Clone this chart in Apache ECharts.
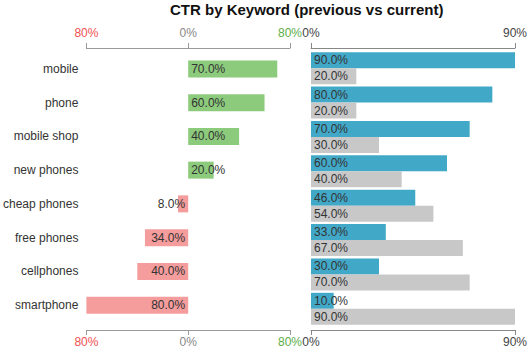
<!DOCTYPE html>
<html>
<head>
<meta charset="utf-8">
<script src="https://cdn.jsdelivr.net/npm/echarts@6/dist/echarts.min.js"></script>
<style>html,body{margin:0;padding:0;background:#fff}#c{width:532px;height:355px}</style>
</head>
<body>
<div id="c"></div>
<script>
var categories = ['mobile','phone','mobile shop','new phones','cheap phones','free phones','cellphones','smartphone'];
var currentCTR = [90, 80, 70, 60, 46, 33, 30, 10];
var previousCTR = [20, 20, 30, 40, 54, 67, 70, 90];
var changeCTR = [70, 60, 40, 20, -8, -34, -40, -80];
var diffTicks = [-80, 0, 80];
var ctrTicks = [0, 90];

var FONT = '"Liberation Sans", Arial, sans-serif';
var GREEN = '#8cca7c', RED = '#f59c9c', BLUE = '#42a8c7', GREY = '#c8c8c8';

function pct(v){ return Math.abs(v).toFixed(1) + '%'; }

var leftData = changeCTR.map(function(v){
  return {
    value: v,
    itemStyle: { color: v >= 0 ? GREEN : RED },
    label: { position: v >= 0 ? 'insideLeft' : 'insideRight', distance: 3 }
  };
});

function diffAxis(pos, off, margin){
  return {
    type: 'value', gridIndex: 0, position: pos, offset: off,
    min: diffTicks[0], max: diffTicks[2], interval: 80,
    splitLine: { show: false },
    axisLine: { show: true, lineStyle: { color: '#999' } },
    axisTick: { show: true, length: 5, lineStyle: { color: '#999' } },
    axisLabel: {
      margin: margin, fontFamily: FONT, fontSize: 12,
      formatter: function(v){
        var t = Math.abs(v) + '%';
        return v < 0 ? '{r|' + t + '}' : (v > 0 ? '{g|' + t + '}' : '{z|' + t + '}');
      },
      rich: {
        r: { color: '#f05050', fontFamily: FONT, fontSize: 12 },
        g: { color: '#5cae4a', fontFamily: FONT, fontSize: 12 },
        z: { color: '#888', fontFamily: FONT, fontSize: 12 }
      }
    }
  };
}
function ctrAxis(pos, off, margin){
  return {
    type: 'value', gridIndex: 1, position: pos, offset: off,
    min: ctrTicks[0], max: ctrTicks[1], interval: 90,
    splitLine: { show: false },
    axisLine: { show: true, lineStyle: { color: '#888' } },
    axisTick: { show: true, length: 5, lineStyle: { color: '#888' } },
    axisLabel: {
      margin: margin, fontFamily: FONT, fontSize: 12, color: '#444',
      formatter: function(v){ return v + '%'; }
    }
  };
}

var chart = echarts.init(document.getElementById('c'), null, { renderer: 'svg' });
chart.setOption({
  animation: false,
  backgroundColor: '#fff',
  title: {
    text: 'CTR by Keyword (previous vs current)',
    left: 165, top: -3,
    textStyle: { fontFamily: FONT, fontSize: 15, fontWeight: 'bold', color: '#111' }
  },
  grid: [
    { left: 86, right: 242, top: 52, height: 270 },
    { left: 311, right: 17, top: 51, height: 275 }
  ],
  xAxis: [
    diffAxis('top', 4, 9),
    diffAxis('bottom', 8, 6),
    ctrAxis('top', 3, 9),
    ctrAxis('bottom', 4, 6)
  ],
  yAxis: [
    {
      type: 'category', gridIndex: 0, data: categories, inverse: true,
      axisLine: { show: false }, axisTick: { show: false },
      axisLabel: { margin: 8, fontFamily: FONT, fontSize: 12, color: '#333' }
    },
    {
      type: 'category', gridIndex: 1, data: categories, inverse: true,
      axisLine: { show: false }, axisTick: { show: false },
      axisLabel: { show: false }
    }
  ],
  series: [
    {
      type: 'bar', xAxisIndex: 0, yAxisIndex: 0, barWidth: 17,
      data: leftData,
      label: { show: true, fontFamily: FONT, fontSize: 12, color: '#333', formatter: function(p){ return pct(p.value); } }
    },
    {
      name: 'current', type: 'bar', xAxisIndex: 2, yAxisIndex: 1, barWidth: 16, barGap: '0%',
      data: currentCTR, itemStyle: { color: BLUE },
      label: { show: true, position: 'insideLeft', distance: 3, fontFamily: FONT, fontSize: 12, color: '#333', formatter: function(p){ return pct(p.value); } }
    },
    {
      name: 'previous', type: 'bar', xAxisIndex: 2, yAxisIndex: 1, barWidth: 16, barGap: '0%',
      data: previousCTR, itemStyle: { color: GREY },
      label: { show: true, position: 'insideLeft', distance: 3, fontFamily: FONT, fontSize: 12, color: '#333', formatter: function(p){ return pct(p.value); } }
    }
  ]
});
</script>
</body>
</html>
